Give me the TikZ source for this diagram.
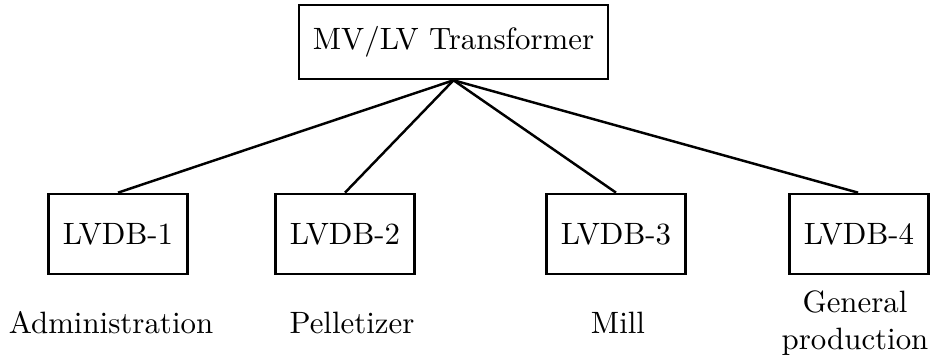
\documentclass[tikz,border=0pt]{standalone}
\usepackage{tikz}
\usetikzlibrary{positioning}

\begin{document}
\begin{tikzpicture}[x=0.324pt, y=-0.324pt, thick,
    box/.style={draw, minimum width=45pt, minimum height=26pt},
    lbl/.style={align=center}]
    \useasboundingbox (0,0) rectangle (931,361);

    % transformer
    \node[draw, minimum width=100pt, minimum height=24pt] (tr) at (453.5,42) {MV/LV Transformer};

    % distribution boards
    \node[box] (db1) at (118,234) {LVDB-1};
    \node[box] (db2) at (345,234) {LVDB-2};
    \node[box] (db3) at (616,234) {LVDB-3};
    \node[box] (db4) at (859,234) {LVDB-4};

    % loads
    \node[lbl] (l1) at (111,323) {Administration};
    \node[lbl] (l2) at (352,323) {Pelletizer};
    \node[lbl] (l3) at (618,323) {Mill};
    \node[lbl] (l4) at (855,323) {General\\production};

    % feeders
    \draw (tr.south) -- (db1.north);
    \draw (tr.south) -- (db2.north);
    \draw (tr.south) -- (db3.north);
    \draw (tr.south) -- ([xshift=-0.3pt]db4.north);
\end{tikzpicture}
\end{document}
